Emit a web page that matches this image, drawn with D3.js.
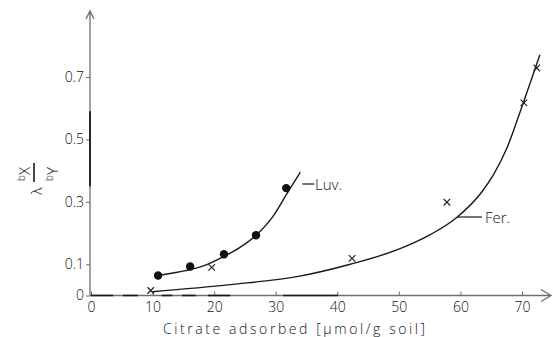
<!DOCTYPE html>
<html>
<head>
<meta charset="utf-8">
<script src="https://cdn.jsdelivr.net/npm/d3@7"></script>
<style>
  html, body { margin: 0; padding: 0; background: #fff; }
  svg { display: block; }
  text { font-family: "Open Sans", "DejaVu Sans", sans-serif; font-weight: 300; fill: #111; }
</style>
</head>
<body>
<svg id="chart" width="553" height="337"></svg>
<script>
// Axis ticks
const xTicks = [0, 10, 20, 30, 40, 50, 60, 70];
const yTicks = [0, 0.1, 0.3, 0.5, 0.7];
const yTickLabels = ["0", "0.1", "0.3", "0.5", "0.7"];

// Luvisol: measured points and fitted curve
const luvX = [10.9, 16.1, 21.6, 26.8, 31.7];
const luvY = [0.064, 0.093, 0.132, 0.193, 0.344];
const luvCurveX = [10.9, 13.3, 16.1, 18.8, 21.6, 24.2, 26.8, 29.5, 31.7, 34.0];
const luvCurveY = [0.064, 0.072, 0.083, 0.099, 0.125, 0.154, 0.193, 0.252, 0.322, 0.395];

// Ferralsol: measured points and fitted curve
const ferX = [9.7, 19.6, 42.4, 57.8, 70.3, 72.4];
const ferY = [0.016, 0.090, 0.119, 0.299, 0.617, 0.729];
const ferCurveX = [9.9, 22.6, 33.9, 42.1, 50.2, 55.1, 59.4, 63.4, 65.3, 67.5, 70.2, 72.9];
const ferCurveY = [0.012, 0.035, 0.062, 0.100, 0.150, 0.195, 0.250, 0.330, 0.385, 0.470, 0.617, 0.771];

// Darker ink stretches along the axis lines
const xAxisInk = [[0, 3.6], [5.2, 7.6], [11.5, 13.2], [14.8, 17.0], [19.0, 22.6], [31.2, 40.1]];
const yAxisInk = [[0.35, 0.59]];

const svg = d3.select("#chart");
const x = d3.scaleLinear().domain([0, 70]).range([91, 522]);
const y = d3.scaleLinear().domain([0, 0.7]).range([295.5, 77]);

const axisColor = "#6e6e6e";
const ink = "#1a1a1a";

// X axis
const gx = svg.append("g")
  .attr("transform", `translate(0,${y(0)})`)
  .call(d3.axisBottom(x).tickValues(xTicks).tickFormat(d3.format("d"))
    .tickSize(-4).tickSizeOuter(0).tickPadding(7));
gx.select(".domain").remove();
gx.selectAll(".tick line").attr("stroke", axisColor);
gx.selectAll(".tick text").attr("font-size", 14).attr("fill", "#111");

// Y axis
const gy = svg.append("g")
  .attr("transform", `translate(${x(0) - 1},0)`)
  .call(d3.axisLeft(y).tickValues(yTicks).tickFormat((d, i) => yTickLabels[i])
    .tickSize(4).tickSizeOuter(0).tickPadding(2));
gy.select(".domain").remove();
gy.selectAll(".tick line").attr("stroke", axisColor);
gy.selectAll(".tick text").attr("font-size", 14).attr("fill", "#111");

// Axis lines with open arrowheads
const x0 = x(0) - 1, yb = y(0);
svg.append("path")
  .attr("d", `M${x0},${yb}H551 M541,${yb - 6}L551,${yb}L541,${yb + 6}`)
  .attr("fill", "none").attr("stroke", axisColor).attr("stroke-width", 1.3);
svg.append("path")
  .attr("d", `M${x0},${yb}V11 M${x0 - 4},19L${x0},11L${x0 + 4},19`)
  .attr("fill", "none").attr("stroke", axisColor).attr("stroke-width", 1.3);

svg.append("g").selectAll("line").data(xAxisInk).join("line")
  .attr("x1", d => x(d[0])).attr("x2", d => x(d[1]))
  .attr("y1", yb).attr("y2", yb)
  .attr("stroke", ink).attr("stroke-width", 1.6);
svg.append("g").selectAll("line").data(yAxisInk).join("line")
  .attr("x1", x0).attr("x2", x0)
  .attr("y1", d => y(d[0])).attr("y2", d => y(d[1]))
  .attr("stroke", ink).attr("stroke-width", 1.8);

// Fitted curves
const line = d3.line()
  .x(d => x(d[0])).y(d => y(d[1]))
  .curve(d3.curveMonotoneX);
svg.append("path")
  .attr("d", line(d3.zip(luvCurveX, luvCurveY)))
  .attr("fill", "none").attr("stroke", ink).attr("stroke-width", 1.4);
svg.append("path")
  .attr("d", line(d3.zip(ferCurveX, ferCurveY)))
  .attr("fill", "none").attr("stroke", ink).attr("stroke-width", 1.4);

// Luvisol points (filled dots)
svg.append("g").selectAll("circle").data(d3.zip(luvX, luvY)).join("circle")
  .attr("cx", d => x(d[0])).attr("cy", d => y(d[1]))
  .attr("r", 4.2).attr("fill", "#111");

// Ferralsol points (crosses)
svg.append("g").selectAll("path").data(d3.zip(ferX, ferY)).join("path")
  .attr("transform", d => `translate(${x(d[0])},${y(d[1])})`)
  .attr("d", d3.symbol(d3.symbolX, 30)())
  .attr("fill", "none").attr("stroke", "#222").attr("stroke-width", 1.2);

// Curve labels with leader lines
const lastLuv = luvCurveX.length - 1;
svg.append("line")
  .attr("x1", x(luvCurveX[lastLuv]) + 2).attr("x2", x(luvCurveX[lastLuv]) + 14)
  .attr("y1", 184).attr("y2", 184)
  .attr("stroke", ink).attr("stroke-width", 1.2);
svg.append("text").attr("x", 315).attr("y", 190)
  .attr("font-size", 15).text("Luv.");

svg.append("line").attr("x1", 457).attr("x2", 482).attr("y1", 217).attr("y2", 217)
  .attr("stroke", ink).attr("stroke-width", 1.2);
svg.append("text").attr("x", 485).attr("y", 223)
  .attr("font-size", 15).text("Fer.");

// X axis title
svg.append("text")
  .attr("x", 163).attr("y", 334)
  .attr("font-size", 14)
  .attr("textLength", 262).attr("lengthAdjust", "spacing")
  .text("Citrate adsorbed [µmol/g soil]");

// Y axis title: λ · ᵇX / ᵇY, rotated
const yl = svg.append("g").attr("transform", "translate(34,178) rotate(-90)");
yl.append("line").attr("x1", -4).attr("x2", 15).attr("y1", 0).attr("y2", 0)
  .attr("stroke", ink).attr("stroke-width", 1.6);
const num = yl.append("text").attr("x", -3).attr("y", -4).attr("font-size", 15);
num.append("tspan").attr("font-size", 10).attr("dy", -5).text("b");
num.append("tspan").attr("dy", 5).text("X");
const den = yl.append("text").attr("x", -3).attr("y", 24).attr("font-size", 15);
den.append("tspan").attr("font-size", 10).attr("dy", -5).text("b");
den.append("tspan").attr("dy", 5).text("Y");
yl.append("text").attr("x", -13).attr("y", 8).attr("text-anchor", "middle")
  .attr("font-size", 15).text("λ");
</script>
</body>
</html>
